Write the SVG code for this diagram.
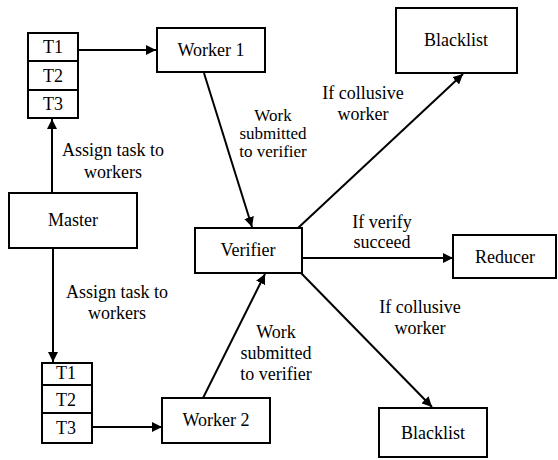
<svg xmlns="http://www.w3.org/2000/svg" width="558" height="460" viewBox="0 0 558 460">
<defs>
<marker id="ah" viewBox="0 0 10 10" refX="10" refY="5" markerWidth="10" markerHeight="10" markerUnits="userSpaceOnUse" orient="auto">
<path d="M0,0 L10,5 L0,10 z" fill="#000"/>
</marker>
</defs>
<style>
.bg{fill:#fff}
rect.n{fill:#fff;stroke:#000;stroke-width:2}
text{font-family:"Times New Roman","Liberation Serif",serif;font-size:18px;fill:#000;text-anchor:middle}
text.s{font-size:17px}
.c line{stroke:#000;stroke-width:2;marker-end:url(#ah)}
</style>
<rect class="bg" x="0" y="0" width="558" height="460"/>
<g class="c" id="connectors">
<line x1="78" y1="50" x2="156" y2="50"/>
<line x1="52" y1="193" x2="52" y2="119"/>
<line x1="53" y1="248" x2="53" y2="362"/>
<line x1="92" y1="427" x2="162" y2="427"/>
<line x1="204" y1="73" x2="252" y2="227"/>
<line x1="203" y1="398" x2="265" y2="274"/>
<line x1="298" y1="228" x2="463" y2="74"/>
<line x1="302" y1="258" x2="453" y2="258"/>
<line x1="301" y1="273" x2="432" y2="407"/>
</g>
<g id="tasks1">
<rect class="n" x="28" y="33" width="50" height="28"/>
<rect class="n" x="28" y="61" width="50" height="29"/>
<rect class="n" x="28" y="90" width="50" height="28"/>
<text x="53" y="53">T1</text>
<text x="53" y="82">T2</text>
<text x="53" y="110">T3</text>
</g>
<g id="worker1"><rect class="n" x="157" y="28" width="108" height="44"/><text x="211" y="56">Worker 1</text></g>
<g id="blacklist1"><rect class="n" x="396" y="8" width="121" height="65"/><text x="456" y="46">Blacklist</text></g>
<g id="master"><rect class="n" x="9" y="193" width="128" height="55"/><text x="73" y="226">Master</text></g>
<g id="verifier"><rect class="n" x="195" y="228" width="107" height="45"/><text x="248" y="256">Verifier</text></g>
<g id="reducer"><rect class="n" x="453" y="235" width="103" height="43"/><text x="505" y="263">Reducer</text></g>
<g id="tasks2">
<rect class="n" x="42" y="363" width="50" height="22"/>
<rect class="n" x="42" y="385" width="50" height="28"/>
<rect class="n" x="42" y="413" width="50" height="30"/>
<text x="66" y="379">T1</text>
<text x="66" y="406">T2</text>
<text x="66" y="434">T3</text>
</g>
<g id="worker2"><rect class="n" x="162" y="398" width="108" height="45"/><text x="216" y="426">Worker 2</text></g>
<g id="blacklist2"><rect class="n" x="379" y="408" width="108" height="49"/><text x="433" y="439">Blacklist</text></g>
<g id="labels">
<text x="113" y="156">Assign task to</text>
<text x="113" y="178">workers</text>
<text x="117" y="298">Assign task to</text>
<text x="117" y="319">workers</text>
<text class="s" x="273" y="121">Work</text>
<text class="s" x="273" y="139">submitted</text>
<text class="s" x="273" y="157">to verifier</text>
<text x="276" y="338">Work</text>
<text x="276" y="359">submitted</text>
<text x="276" y="380">to verifier</text>
<text x="363" y="99">If collusive</text>
<text x="363" y="120">worker</text>
<text x="382" y="228">If verify</text>
<text x="382" y="248">succeed</text>
<text x="420" y="313">If collusive</text>
<text x="420" y="334">worker</text>
</g>
</svg>
